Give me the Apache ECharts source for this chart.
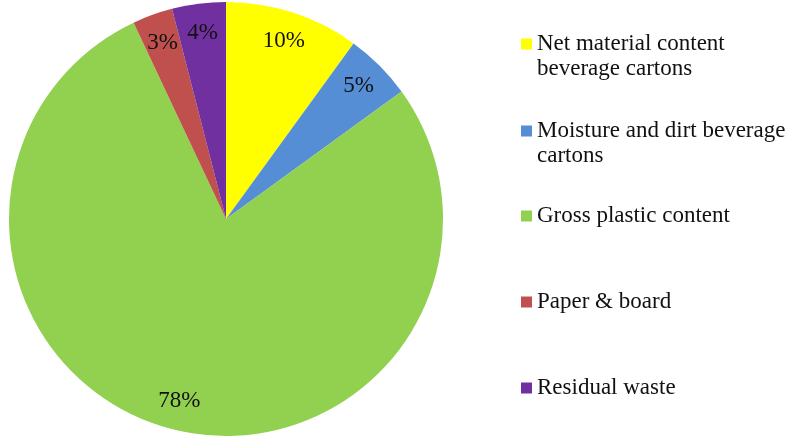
<!DOCTYPE html>
<html><head><meta charset="utf-8">
<script src="https://cdn.jsdelivr.net/npm/echarts@6/dist/echarts.min.js"></script>
<style>html,body{margin:0;padding:0;background:#fff}#c{width:796px;height:438px}</style>
</head><body><div id="c"></div>
<script>
const categories = ['Net material content beverage cartons','Moisture and dirt beverage cartons','Gross plastic content','Paper & board','Residual waste'];
const legendLabels = ['Net material content\nbeverage cartons','Moisture and dirt beverage\ncartons','Gross plastic content','Paper & board','Residual waste'];
const values = [10, 5, 78, 3, 4];
const colors = ['#FFFF00', '#558ED5', '#92D050', '#C0504D', '#7030A0'];
const legendCenters = [39, 126, 211, 297, 383];

const FONT = '"Liberation Serif", "DejaVu Serif", serif';
const R = 217;
const LH = 25;
const SQ = 11;
const chart = echarts.init(document.getElementById('c'));
const data = categories.map((c, i) => ({ name: c, value: values[i], itemStyle: { color: colors[i] } }));
const legends = categories.map((c, i) => {
  const multi = legendLabels[i].indexOf('\n') >= 0;
  const H = multi ? LH + SQ : SQ;
  const icon = multi
    ? 'path://M0,0L' + SQ + ',0L' + SQ + ',' + SQ + 'L0,' + SQ + 'Z M0,' + H + 'L0.001,' + H + 'Z'
    : 'rect';
  return {
    data: [c],
    left: 516,
    top: legendCenters[i] - LH / 2,
    icon: icon, itemWidth: SQ, itemHeight: H,
    selectedMode: false,
    formatter: () => legendLabels[i],
    textStyle: { fontFamily: FONT, fontSize: 23, lineHeight: LH, color: '#111' }
  };
});
chart.setOption({
  animation: false,
  legend: legends,
  series: [{
    type: 'pie', center: [226, 219], radius: [0, R], startAngle: 90, clockwise: true,
    data: data, label: { show: false }, labelLine: { show: false },
    itemStyle: { borderWidth: 0 }, emphasis: { disabled: true }
  }, {
    type: 'pie', center: [226, 219], radius: [R * 0.7, R], startAngle: 90, clockwise: true, silent: true,
    data: categories.map((c, i) => ({ name: c, value: values[i], itemStyle: { color: 'rgba(0,0,0,0)' } })),
    label: { show: true, position: 'inside', formatter: p => p.value + '%', fontFamily: FONT, fontSize: 23, color: '#111' },
    labelLine: { show: false }, emphasis: { disabled: true }
  }]
});
</script></body></html>
